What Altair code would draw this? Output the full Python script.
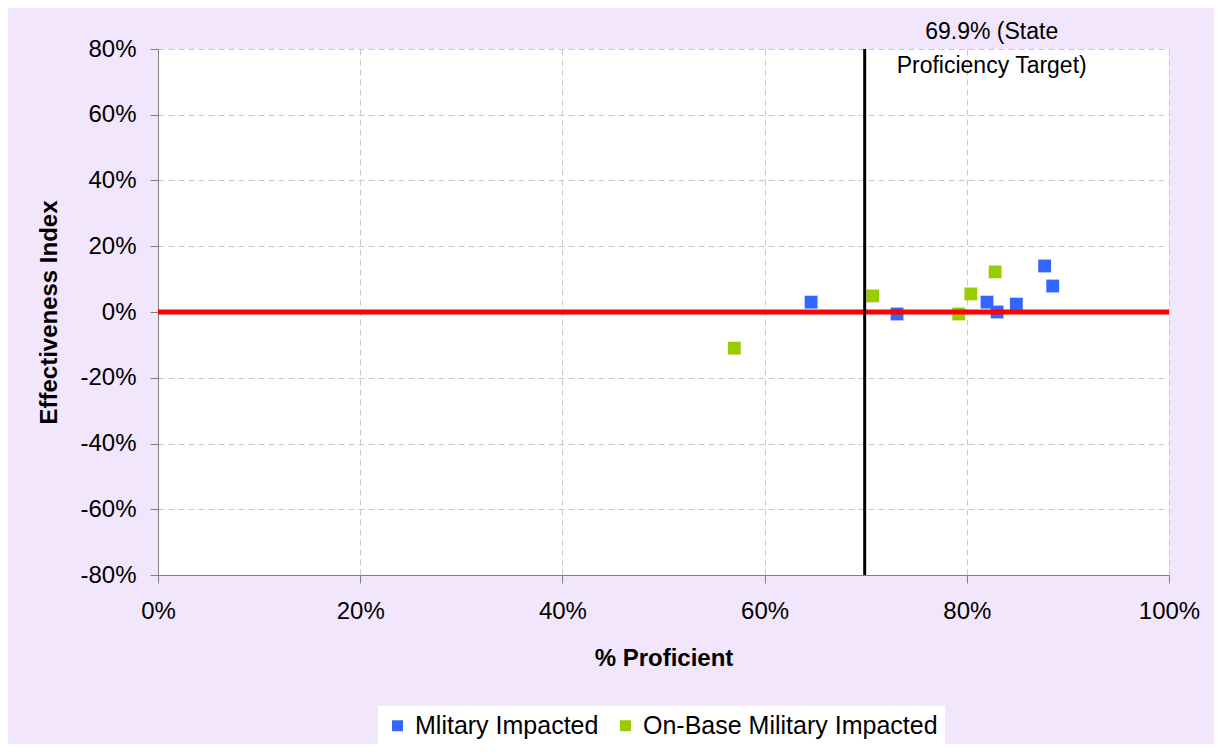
import altair as alt
import pandas as pd

mil_x = [0.646, 0.731, 0.820, 0.830, 0.849, 0.877, 0.885]
mil_y = [0.030, -0.006, 0.030, 0.000, 0.024, 0.140, 0.079]
onb_x = [0.570, 0.707, 0.792, 0.804, 0.828]
onb_y = [-0.110, 0.049, -0.006, 0.055, 0.122]
series = ["Mlitary Impacted", "On-Base Military Impacted"]
colors = ["#3366FF", "#99CC00"]
target = 0.699
target_text = ["69.9% (State", "Proficiency Target)"]
x_ticks = [0, 0.2, 0.4, 0.6, 0.8, 1.0]
y_ticks = [-0.8, -0.6, -0.4, -0.2, 0, 0.2, 0.4, 0.6, 0.8]

df = pd.DataFrame(
    [{"x": a, "y": b, "s": series[0]} for a, b in zip(mil_x, mil_y)]
    + [{"x": a, "y": b, "s": series[1]} for a, b in zip(onb_x, onb_y)]
)

FONT = "Liberation Sans"
W, H = 1011, 526
LBL = "replace(format(datum.value, '.0%'), '\u2212', '-')"

xs = alt.Scale(domain=[0, 1], nice=False, zero=False)
ys = alt.Scale(domain=[-0.8, 0.8], nice=False, zero=False)

points = alt.Chart(df).mark_point(shape="square", filled=True, size=165, opacity=1).encode(
    x=alt.X("x:Q", scale=xs, title="% Proficient",
            axis=alt.Axis(values=x_ticks, labelExpr=LBL)),
    y=alt.Y("y:Q", scale=ys, title="Effectiveness Index",
            axis=alt.Axis(values=y_ticks, labelExpr=LBL)),
    color=alt.Color("s:N", scale=alt.Scale(domain=series, range=colors),
                    legend=alt.Legend(title=None, orient="none", legendX=220, legendY=657,
                                      direction="horizontal", symbolType="square",
                                      symbolSize=121, labelFontSize=25, labelFont=FONT,
                                      labelColor="black", labelOffset=5,
                                      fillColor="white", padding=7, columnPadding=14,
                                      labelLimit=500)),
)

zero_df = pd.DataFrame({"y": [0.0]})
hline = alt.Chart(zero_df).mark_rule(color="#FF0000", strokeWidth=5).encode(
    y=alt.Y("y:Q", scale=ys)
)

tgt_df = pd.DataFrame({"x": [target]})
vline = alt.Chart(tgt_df).mark_rule(color="black", strokeWidth=3).encode(
    x=alt.X("x:Q", scale=xs)
)

txt_df = pd.DataFrame({"x": [target], "y": [0.8], "t": [target_text]})
label = alt.Chart(txt_df).mark_text(
    font=FONT, fontSize=23, align="center", baseline="bottom", dx=127, dy=-5,
    lineHeight=34, color="black"
).encode(
    x=alt.X("x:Q", scale=xs), y=alt.Y("y:Q", scale=ys), text="t"
)

chart = alt.layer(points, hline, vline, label).properties(
    width=W, height=H,
    autosize=alt.AutoSizeParams(type="none"),
    padding={"left": 150, "top": 41, "right": 45, "bottom": 169},
    background="#F1E6FB",
).configure_view(
    fill="white", stroke=None
).configure_axis(
    labelFont=FONT, titleFont=FONT, labelFontSize=24, titleFontSize=24,
    labelColor="black", titleColor="black", titleFontWeight="bold",
    domainColor="#808080", tickColor="#808080", tickSize=8, labelFlush=False,
    gridColor="#C8C8C8", gridDash=[6, 4], gridWidth=1,
).configure_axisX(
    labelPadding=16, titlePadding=23
).configure_axisY(
    labelPadding=14, titlePadding=18
)

chart.save("out.html", embed_options={"renderer": "svg", "actions": False})
